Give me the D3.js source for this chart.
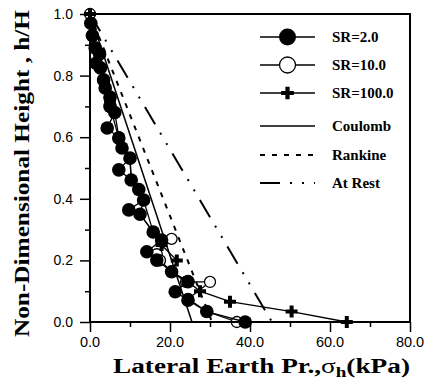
<!DOCTYPE html>
<html>
<head>
<meta charset="utf-8">
<title>Lateral Earth Pressure</title>
<script src="https://d3js.org/d3.v7.min.js"></script>
<style>
  body { margin: 0; background: #fff; }
  svg text { fill: #000; }
</style>
</head>
<body>
<div id="canvas-1"></div>
<script>

// データ (x = 土圧 kPa, h = h/H)
var xTicks = [0, 20, 40, 60, 80];
var xTickLabels = ["0.0", "20.0", "40.0", "60.0", "80.0"];
var yTicks = [0, 0.2, 0.4, 0.6, 0.8, 1.0];
var yTickLabels = ["0.0", "0.2", "0.4", "0.6", "0.8", "1.0"];

var sr2 = [
  [0.2, 0.97], [0.6, 0.93], [1.3, 0.89], [2.4, 0.87], [1.5, 0.84], [2.6, 0.825],
  [3.4, 0.786], [3.8, 0.76], [5.0, 0.73], [5.0, 0.70], [6.2, 0.68], [4.3, 0.63],
  [7.2, 0.597], [8.0, 0.565], [10.0, 0.532], [7.2, 0.494], [10.3, 0.461], [12.2, 0.43],
  [13.4, 0.396], [9.7, 0.364], [12.5, 0.35], [15.8, 0.292], [17.9, 0.266], [14.2, 0.228],
  [16.7, 0.201], [20.4, 0.163], [24.5, 0.131], [21.3, 0.098], [24.5, 0.071], [29.2, 0.034],
  [38.8, 0.0]
];
var sr10 = [
  [0, 1.0], [0.6, 0.93], [2.4, 0.87], [3.4, 0.786], [5.0, 0.72], [6.2, 0.68],
  [7.2, 0.6], [10.0, 0.532], [10.3, 0.461], [13.4, 0.396], [12.5, 0.35], [15.8, 0.292],
  [20.4, 0.27], [16.7, 0.22], [17.5, 0.2], [20.4, 0.163], [24.0, 0.13], [30.0, 0.13],
  [24.5, 0.075], [29.2, 0.034], [36.7, 0.0]
];
var sr100 = [
  [0, 1.0], [1.3, 0.89], [3.4, 0.786], [5.0, 0.70], [7.2, 0.597], [10.0, 0.532],
  [10.3, 0.461], [13.4, 0.396], [15.8, 0.292], [17.9, 0.25], [21.7, 0.2], [20.4, 0.163],
  [24.5, 0.131], [27.5, 0.1], [35.0, 0.066], [50.4, 0.034], [64.2, 0.0]
];
var coulomb = [[0, 1.0], [25.5, 0.0]];
var rankine = [[0, 1.0], [30.5, 0.0]];
var atRest = [[0, 1.0], [45.5, 0.0]];

var legendNames = ["SR=2.0", "SR=10.0", "SR=100.0", "Coulomb", "Rankine", "At Rest"];

// サイズ
var width = 427;
var height = 382;
var margin = { top: 14, right: 17, bottom: 60, left: 90 };

var serif = "'Times New Roman', 'Liberation Serif', serif";
var sans = "Arial, 'Liberation Sans', sans-serif";

var svg = d3.select("#canvas-1")
  .append("svg")
  .attr("width", width)
  .attr("height", height);

var x = d3.scaleLinear().domain([0, 80]).range([margin.left, width - margin.right]);
var y = d3.scaleLinear().domain([0, 1]).range([height - margin.bottom, margin.top]);

var line = d3.line().x(d => x(d[0])).y(d => y(d[1]));

// 理論線
var dashRankine = "5,7";
var dashAtRest = "20,10,2,10,2,10";

svg.append("path").datum(coulomb).attr("d", line)
  .attr("fill", "none").attr("stroke", "#000").attr("stroke-width", 1.5);
svg.append("path").datum(rankine).attr("d", line)
  .attr("fill", "none").attr("stroke", "#000").attr("stroke-width", 2)
  .attr("stroke-dasharray", dashRankine);
svg.append("path").datum(atRest).attr("d", line)
  .attr("fill", "none").attr("stroke", "#000").attr("stroke-width", 2)
  .attr("stroke-dasharray", dashAtRest);

// 計算結果
function drawSeries(data, markerFn) {
  svg.append("path").datum(data).attr("d", line)
    .attr("fill", "none").attr("stroke", "#000").attr("stroke-width", 1.3);
  var g = svg.append("g");
  data.forEach(function(d) {
    markerFn(g, x(d[0]), y(d[1]), false);
  });
}

function openCircle(g, cx, cy, big) {
  g.append("circle").attr("cx", cx).attr("cy", cy).attr("r", big ? 8 : 5.5)
    .attr("fill", "#fff").attr("stroke", "#000").attr("stroke-width", 1.3);
}
function filledCircle(g, cx, cy, big) {
  g.append("circle").attr("cx", cx).attr("cy", cy).attr("r", big ? 8.5 : 6.8)
    .attr("fill", "#000");
}
function cross(g, cx, cy, big) {
  g.append("path")
    .attr("d", d3.symbol().type(d3.symbolCross).size(big ? 90 : 80)())
    .attr("transform", `translate(${cx},${cy})`)
    .attr("fill", "#000");
}

// SR=2.0 を最後に描いて上に重ねる
drawSeries(sr10, openCircle);
drawSeries(sr100, cross);
drawSeries(sr2, filledCircle);

// 枠
svg.append("rect")
  .attr("x", x(0)).attr("y", y(1))
  .attr("width", x(80) - x(0)).attr("height", y(0) - y(1))
  .attr("fill", "none").attr("stroke", "#000").attr("stroke-width", 2);

// X軸
var xAxis = svg.append("g").attr("transform", `translate(0,${y(0)})`);
xAxis.call(d3.axisBottom(x).tickValues(d3.range(0, 81, 10)).tickSize(0).tickFormat(""));
xAxis.select(".domain").remove();
xAxis.selectAll(".tick line")
  .attr("y2", d => d % 20 === 0 ? 10 : 5)
  .attr("stroke-width", 1.5);
xTicks.forEach(function(v, i) {
  svg.append("text")
    .attr("x", x(v)).attr("y", 347)
    .attr("text-anchor", "middle")
    .style("font-family", sans).style("font-size", "14.5px")
    .text(xTickLabels[i]);
});

// Y軸
var yAxis = svg.append("g").attr("transform", `translate(${x(0)},0)`);
yAxis.call(d3.axisLeft(y).tickValues(d3.range(0, 11).map(v => v / 10)).tickSize(0).tickFormat(""));
yAxis.select(".domain").remove();
yAxis.selectAll(".tick line")
  .attr("x2", d => Math.round(d * 10) % 2 === 0 ? -10 : -5)
  .attr("stroke-width", 1.5);
yTicks.forEach(function(v, i) {
  svg.append("text")
    .attr("x", 73).attr("y", y(v) + 5)
    .attr("text-anchor", "end")
    .style("font-family", sans).style("font-size", "14px")
    .text(yTickLabels[i]);
});

// 軸タイトル
var xTitle = svg.append("text")
  .attr("x", 113).attr("y", 373)
  .attr("textLength", 297).attr("lengthAdjust", "spacingAndGlyphs")
  .style("font-family", serif).style("font-size", "20px").style("font-weight", "bold");
xTitle.append("tspan").text("Lateral Earth Pr.,");
xTitle.append("tspan").style("font-weight", "normal").text("σ");
xTitle.append("tspan").attr("dy", 4).style("font-size", "14px").text("h");
xTitle.append("tspan").attr("dy", -4).text("(kPa)");

svg.append("text")
  .attr("transform", "translate(29,337) rotate(-90)")
  .attr("x", 0).attr("y", 0)
  .attr("textLength", 327).attr("lengthAdjust", "spacingAndGlyphs")
  .style("font-family", serif).style("font-size", "20px").style("font-weight", "bold")
  .text("Non-Dimensional Height , h/H");

// 凡例
var legendY = [37, 65, 93, 126, 155, 183];
var legendX0 = 260, legendX1 = 315, legendTextX = 332;

legendNames.forEach(function(name, i) {
  var ly = legendY[i];
  var g = svg.append("g");
  var ln = g.append("line")
    .attr("x1", legendX0).attr("x2", legendX1).attr("y1", ly).attr("y2", ly)
    .attr("stroke", "#000").attr("stroke-width", i < 3 ? 1.3 : (i === 3 ? 1.5 : 2));
  if (i === 4) ln.attr("stroke-dasharray", dashRankine);
  if (i === 5) ln.attr("stroke-dasharray", dashAtRest);
  var mid = (legendX0 + legendX1) / 2;
  if (i === 0) filledCircle(g, mid, ly, true);
  if (i === 1) openCircle(g, mid, ly, true);
  if (i === 2) cross(g, mid, ly, true);
  g.append("text")
    .attr("x", legendTextX).attr("y", ly + 5)
    .style("font-family", serif).style("font-size", "15px").style("font-weight", "bold")
    .text(name);
});

</script>
</body>
</html>
